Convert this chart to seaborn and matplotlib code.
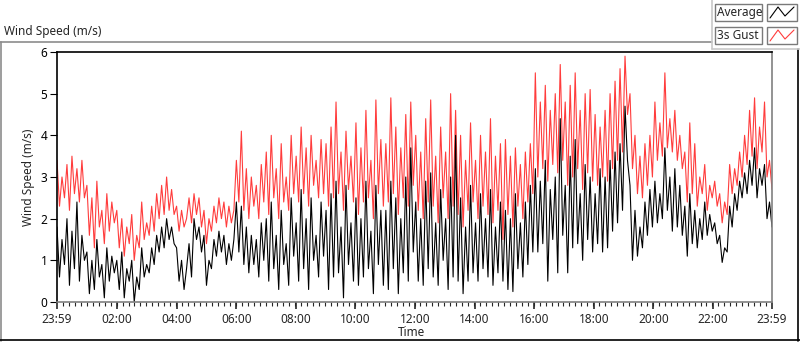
import numpy as np
import pandas as pd
import matplotlib
matplotlib.use("Agg")
import matplotlib.pyplot as plt
from matplotlib.lines import Line2D
from matplotlib.patches import Rectangle
import seaborn as sns

# 3s gust and 10-min average wind speed (m/s), 5 min steps
gust = [
    3.4, 2.3, 3.0, 2.5, 3.3, 2.2, 3.5, 2.6, 3.2, 2.4, 3.4, 2.5,
    2.8, 1.6, 2.5, 1.3, 2.9, 1.8, 2.2, 1.4, 2.6, 1.7, 2.4, 1.9,
    2.2, 1.3, 2.0, 1.1, 1.8, 1.4, 2.1, 1.0, 1.6, 1.3, 2.4, 1.5,
    1.9, 1.6, 2.3, 1.7, 2.6, 2.0, 2.8, 2.1, 3.0, 2.2, 2.7, 2.1,
    2.3, 1.7, 2.2, 1.8, 2.0, 2.5, 1.9, 2.6, 2.1, 2.5, 1.8, 2.2,
    1.4, 2.0, 1.7, 2.3, 1.9, 2.5, 2.0, 2.4, 1.8, 2.3, 1.9, 2.2,
    3.4, 2.4, 4.1, 2.2, 3.2, 2.0, 3.0, 2.3, 2.8, 2.0, 3.3, 2.4,
    3.6, 2.1, 4.0, 2.5, 3.2, 2.0, 3.8, 2.4, 3.0, 2.2, 4.0, 2.6,
    3.5, 2.4, 4.2, 2.6, 3.7, 2.3, 4.0, 2.8, 3.4, 2.5, 3.9, 2.6,
    3.8, 2.3, 4.2, 2.5, 4.8, 2.6, 3.6, 2.2, 4.1, 2.7, 3.5, 2.4,
    4.3, 2.1, 3.7, 2.4, 4.6, 2.5, 3.4, 2.0, 4.85, 2.6, 3.9, 2.3,
    3.8, 2.4, 4.9, 2.6, 4.2, 2.1, 3.7, 2.5, 4.5, 2.3, 4.8, 2.8,
    4.0, 2.2, 3.6, 2.0, 4.4, 2.4, 4.85, 2.3, 3.5, 1.9, 4.2, 2.5,
    3.6, 2.0, 5.0, 2.3, 4.6, 2.1, 4.0, 1.8, 3.4, 2.2, 4.3, 2.4,
    3.4, 2.0, 4.0, 2.3, 3.6, 2.1, 4.4, 1.9, 3.5, 2.2, 3.8, 1.5,
    3.9, 2.1, 3.5, 1.8, 3.7, 2.3, 3.3, 2.0, 3.6, 2.4, 3.8, 2.6,
    5.5, 3.0, 4.8, 3.2, 5.2, 2.9, 4.6, 3.3, 5.0, 3.1, 5.7, 3.4,
    4.8, 2.8, 5.2, 3.0, 5.5, 3.2, 4.6, 2.7, 5.0, 3.1, 5.1, 2.9,
    4.5, 2.8, 4.2, 3.0, 4.6, 2.9, 5.0, 3.2, 5.3, 3.4, 5.6, 3.6,
    5.9, 4.5, 5.0, 3.2, 4.0, 2.6, 3.5, 2.5, 3.8, 2.8, 4.0, 3.0,
    4.8, 3.4, 4.3, 3.5, 5.5, 3.7, 4.4, 3.6, 4.6, 3.4, 4.0, 3.2,
    3.6, 2.4, 4.3, 2.6, 3.8, 2.3, 3.0, 2.6, 3.3, 2.2, 2.8, 2.5,
    2.9, 2.3, 2.6, 1.9, 2.4, 2.1, 3.3, 2.6, 3.2, 2.8, 3.6, 3.0,
    4.0, 3.3, 4.6, 3.5, 4.9, 3.2, 4.2, 3.6, 4.8, 3.0, 3.4, 2.7,
]
average = [
    1.8, 0.6, 1.5, 0.9, 2.0, 0.4, 1.7, 0.8, 2.4, 0.5, 1.6, 1.0,
    1.2, 0.2, 1.0, 0.3, 1.5, 0.6, 0.9, 0.1, 1.3, 0.5, 1.1, 0.7,
    1.0, 0.3, 1.2, 0.1, 0.8, 0.5, 1.0, 0.0, 0.6, 0.3, 1.3, 0.6,
    0.9, 0.7, 1.3, 0.9, 1.6, 1.2, 1.8, 1.3, 2.0, 1.5, 1.8, 1.4,
    1.3, 0.5, 1.0, 0.3, 0.8, 1.4, 0.6, 2.0, 1.5, 1.8, 1.2, 1.6,
    0.4, 1.0, 0.8, 1.5, 1.1, 1.7, 1.2, 1.6, 0.9, 1.4, 1.0, 1.5,
    2.4, 1.2, 2.3, 0.9, 1.8, 0.7, 1.6, 0.9, 1.5, 0.6, 1.9, 1.0,
    2.0, 0.5, 2.4, 0.8, 1.6, 0.3, 2.2, 0.9, 1.4, 0.4, 2.5, 1.1,
    1.9, 0.5, 2.7, 0.8, 2.0, 0.3, 2.5, 1.0, 1.6, 0.6, 2.4, 1.1,
    2.2, 0.3, 2.6, 0.6, 2.9, 0.7, 1.8, 0.1, 2.8, 0.9, 1.9, 0.5,
    2.5, 0.4, 2.0, 0.6, 2.9, 0.8, 1.7, 0.2, 2.8, 0.9, 2.2, 0.4,
    2.2, 0.3, 2.9, 0.8, 2.5, 0.2, 2.0, 0.7, 3.0, 0.5, 3.7, 1.2,
    2.4, 0.5, 2.0, 0.4, 2.9, 0.8, 3.1, 0.6, 1.9, 0.4, 2.7, 1.0,
    2.0, 0.3, 3.0, 0.6, 4.0, 0.5, 2.5, 0.2, 1.8, 0.5, 2.8, 0.7,
    1.9, 0.5, 2.6, 0.8, 2.0, 0.6, 2.7, 0.4, 1.8, 0.7, 2.4, 0.5,
    2.2, 0.3, 2.0, 0.25, 2.6, 0.8, 1.9, 0.6, 2.4, 0.9, 2.8, 1.2,
    3.2, 1.2, 2.9, 1.4, 3.4, 0.5, 2.7, 1.5, 3.0, 0.7, 4.4, 1.6,
    2.8, 0.7, 3.5, 1.3, 3.9, 1.4, 2.6, 1.0, 3.3, 1.5, 3.0, 1.2,
    2.6, 1.4, 3.2, 1.2, 3.0, 1.3, 3.4, 1.7, 3.6, 1.9, 3.8, 2.2,
    4.7, 3.4, 2.8, 1.0, 2.2, 1.1, 1.8, 1.3, 2.4, 1.6, 2.7, 1.8,
    2.9, 1.9, 2.6, 2.0, 3.7, 2.2, 3.0, 1.7, 3.2, 1.8, 2.8, 1.6,
    2.3, 1.1, 2.6, 1.4, 2.2, 1.3, 2.0, 1.5, 2.4, 1.6, 2.1, 1.7,
    1.9, 1.4, 1.6, 0.95, 1.3, 1.2, 2.3, 1.8, 2.6, 2.2, 2.9, 2.5,
    3.1, 2.6, 3.4, 2.8, 3.7, 2.5, 3.2, 2.8, 3.3, 2.0, 2.4, 1.8,
]
tick_labels = ["23:59", "02:00", "04:00", "06:00", "08:00", "10:00", "12:00",
               "14:00", "16:00", "18:00", "20:00", "22:00", "23:59"]
tick_minutes = [0, 121, 241, 361, 481, 601, 721, 841, 961, 1081, 1201, 1321, 1440]

minutes = np.linspace(0, 1440, len(gust))
df = pd.DataFrame({"minute": minutes, "gust": gust, "average": average})

sns.set_style("white")
plt.rcParams["font.family"] = ["Noto Sans", "DejaVu Sans"]

W, H = 800, 342
fig = plt.figure(figsize=(W / 100, H / 100), dpi=100)


def fx(x):
    return x / W


def fy(y):
    return 1 - y / H


ax = fig.add_axes([fx(57), fy(302), fx(772) - fx(57), fy(52) - fy(302)])

red = "#ff3c3c"
sns.lineplot(data=df, x="minute", y="gust", color=red, lw=0.8, ax=ax)
sns.lineplot(data=df, x="minute", y="average", color="black", lw=0.8, ax=ax)

ax.set_xlim(0, 1440)
ax.set_ylim(0, 6)
ax.set_yticks(range(0, 7))
ax.set_xticks(tick_minutes)
ax.set_xticklabels(tick_labels)
ax.set_xticks(np.arange(0, 1441, 12), minor=True)
ax.tick_params(axis="y", direction="out", length=5, width=0.8, pad=2,
               labelsize=8.5, left=True, colors="black")
ax.tick_params(axis="x", which="major", direction="out", length=5, width=1.2,
               pad=3, labelsize=8.5, bottom=True)
ax.tick_params(axis="x", which="minor", direction="out", length=3, width=0.8,
               bottom=True)
ax.set_xlabel("")
ax.set_ylabel("Wind Speed (m/s)", fontsize=8.5, labelpad=4)

for side in ["left", "top"]:
    ax.spines[side].set_color("black")
    ax.spines[side].set_linewidth(1.2)
for side in ["right", "bottom"]:
    ax.spines[side].set_color("#808080")
    ax.spines[side].set_linewidth(1.2)

fig.text(fx(412), fy(333), "Time", ha="center", va="center", fontsize=8.5)
fig.text(fx(4), fy(32), "Wind Speed (m/s)", ha="left", va="center", fontsize=8.5)

# outer graph frame
grey = "#8c8c8c"
frame = [
    ([0, 712], [42, 42], grey),
    ([1, 1], [42, 341], grey),
    ([0, 800], [340, 340], "black"),
    ([798, 798], [49, 341], "black"),
    ([712, 712], [0, 49], "#c8c8c8"),
    ([712, 800], [49, 49], "#c8c8c8"),
]
for xs, ys, c in frame:
    fig.add_artist(Line2D([fx(v) for v in xs], [fy(v) for v in ys],
                          color=c, lw=1.2))

# legend panel
legend_items = [("Average", "black", 4), ("3s Gust", red, 27)]
for name, c, top in legend_items:
    fig.add_artist(Rectangle((fx(715), fy(top + 17)), fx(762) - fx(715),
                             fy(top) - fy(top + 17), fill=False,
                             ec="#7a7a7a", lw=1))
    fig.add_artist(Rectangle((fx(767), fy(top + 17)), fx(797) - fx(767),
                             fy(top) - fy(top + 17), fill=False,
                             ec="#7a7a7a", lw=1))
    fig.text(fx(717), fy(top + 8.5), name, ha="left", va="center", fontsize=8.5)
    zx = [770, 778, 785, 794]
    zy = [top + 14, top + 3, top + 12, top + 3]
    fig.add_artist(Line2D([fx(v) for v in zx], [fy(v) for v in zy],
                          color=c, lw=0.8))

fig.savefig("out.png", dpi=100)
